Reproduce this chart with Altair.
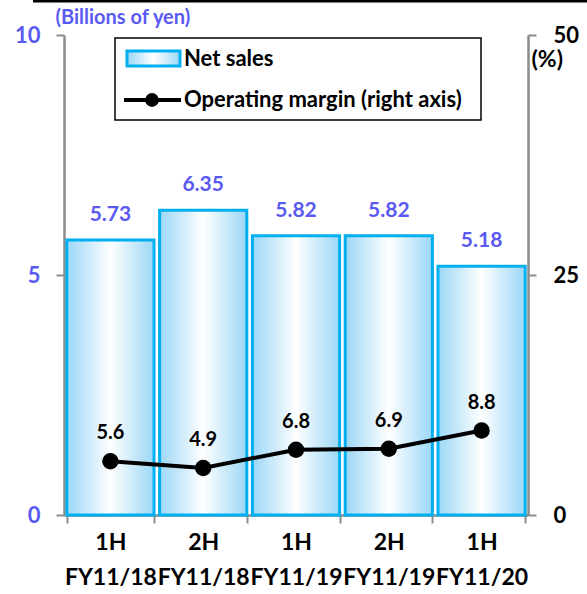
import altair as alt
import pandas as pd

halves = ["1H", "2H", "1H", "2H", "1H"]
fiscal_years = ["FY11/18", "FY11/18", "FY11/19", "FY11/19", "FY11/20"]
net_sales = [5.73, 6.35, 5.82, 5.82, 5.18]
op_margin = [5.6, 4.9, 6.8, 6.9, 8.8]

periods = [f"{h} {f}" for h, f in zip(halves, fiscal_years)]
df = pd.DataFrame({"period": periods, "sales": net_sales, "margin": op_margin})
df["sales_label"] = [f"{v:.2f}" for v in net_sales]
df["margin_label"] = [f"{v:.1f}" for v in op_margin]

BLUE_TXT = "#5a5af2"
FONT = "Lato"
GRAY = "#8c8c8c"

grad = alt.Gradient(
    gradient="linear", x1=0, x2=1, y1=0, y2=0,
    stops=[alt.GradientStop(color="#9bd7f6", offset=0),
           alt.GradientStop(color="#ffffff", offset=0.5),
           alt.GradientStop(color="#9bd7f6", offset=1)])

x_axis = alt.Axis(title=None, labelExpr="split(datum.label, ' ')", labelAngle=0,
                  tickBand="extent", labelFont=FONT, labelFontSize=23,
                  labelFontWeight="bold", labelColor="black", labelLineHeight=35,
                  labelPadding=8, domainColor=GRAY, domainWidth=2.5,
                  tickColor=GRAY, tickWidth=2, tickSize=8)
x_scale = alt.Scale(paddingInner=0.06, paddingOuter=0.03)


def xe():
    return alt.X("period:N", sort=periods, scale=x_scale, axis=x_axis)


y_left_scale = alt.Scale(domain=[0, 10])
y_right_scale = alt.Scale(domain=[0, 50])

y_left_axis = alt.Axis(values=[0, 5, 10], grid=False, title="(Billions of yen)",
                       titleAngle=0, titleX=-9, titleY=-18, titleAlign="left",
                       titleBaseline="middle", titleColor=BLUE_TXT, titleFont=FONT,
                       titleFontSize=20, titleFontWeight="bold",
                       labelColor=BLUE_TXT, labelFont=FONT, labelFontSize=22,
                       labelFontWeight="bold", labelPadding=16, tickSize=8,
                       tickColor=GRAY, tickWidth=2, domainColor=GRAY, domainWidth=2.5)
y_right_axis = alt.Axis(orient="right", values=[0, 25, 50], grid=False, title="(%)",
                        titleAngle=0, titleX=3, titleY=24, titleAlign="left",
                        titleBaseline="middle", titleColor="black", titleFont=FONT,
                        titleFontSize=23, titleFontWeight="bold",
                        labelColor="black", labelFont=FONT, labelFontSize=22,
                        labelFontWeight="bold", labelPadding=17, tickSize=8,
                        tickColor=GRAY, tickWidth=2, domainColor=GRAY, domainWidth=2.5)


def yl():
    return alt.Y("sales:Q", scale=y_left_scale, axis=y_left_axis)


def yr():
    return alt.Y("margin:Q", scale=y_right_scale, axis=y_right_axis)


bars = alt.Chart(df).mark_bar(fill=grad, stroke="#00b0f0", strokeWidth=3).encode(
    x=xe(), y=yl())

bar_text = alt.Chart(df).mark_text(
    baseline="bottom", dy=-15, font=FONT, fontSize=21, fontWeight="bold", color=BLUE_TXT
).encode(x=xe(), y=yl(), text="sales_label:N")

left = alt.layer(bars, bar_text)

line = alt.Chart(df).mark_line(color="black", strokeWidth=4).encode(x=xe(), y=yr())
pts = alt.Chart(df).mark_point(filled=True, color="black", size=270, opacity=1).encode(
    x=xe(), y=yr())
pt_text = alt.Chart(df).mark_text(
    baseline="bottom", dy=-18, font=FONT, fontSize=20, fontWeight="bold", color="black"
).encode(x=xe(), y=yr(), text="margin_label:N")

# legend (drawn manually)
one = pd.DataFrame({"a": [0]})
leg_box = alt.Chart(one).mark_rect(fill="white", stroke="black", strokeWidth=1.5).encode(
    x=alt.value(51), x2=alt.value(417), y=alt.value(3), y2=alt.value(85))
leg_swatch = alt.Chart(one).mark_rect(fill=grad, stroke="#00b0f0", strokeWidth=3).encode(
    x=alt.value(63), x2=alt.value(116), y=alt.value(16), y2=alt.value(31))
leg_line = alt.Chart(one).mark_rule(color="black", strokeWidth=4).encode(
    x=alt.value(60), x2=alt.value(117), y=alt.value(65))
leg_dot = alt.Chart(one).mark_point(filled=True, color="black", size=190, opacity=1).encode(
    x=alt.value(88), y=alt.value(65))
leg_t1 = alt.Chart(one).mark_text(align="left", baseline="middle", font=FONT, fontSize=22,
                                  fontWeight="bold", color="black", text="Net sales").encode(
    x=alt.value(120), y=alt.value(24))
leg_t2 = alt.Chart(one).mark_text(align="left", baseline="middle", font=FONT, fontSize=22,
                                  fontWeight="bold", color="black",
                                  text="Operating margin (right axis)").encode(
    x=alt.value(120), y=alt.value(65))
top_line = alt.Chart(one).mark_rule(color="black", strokeWidth=3).encode(
    x=alt.value(-31), x2=alt.value(523), y=alt.value(-34))

right = alt.layer(line, pts, pt_text)
overlay = alt.layer(leg_box, leg_swatch, leg_line, leg_dot, leg_t1, leg_t2, top_line)

chart = alt.layer(left, right, overlay).resolve_scale(y="independent").properties(
    width=464, height=480,
    autosize=alt.AutoSizeParams(type="none"),
    padding={"left": 64, "top": 35, "right": 59, "bottom": 79},
).configure_view(stroke=None)

chart.save("out.html", embed_options={"renderer": "svg", "actions": False})
